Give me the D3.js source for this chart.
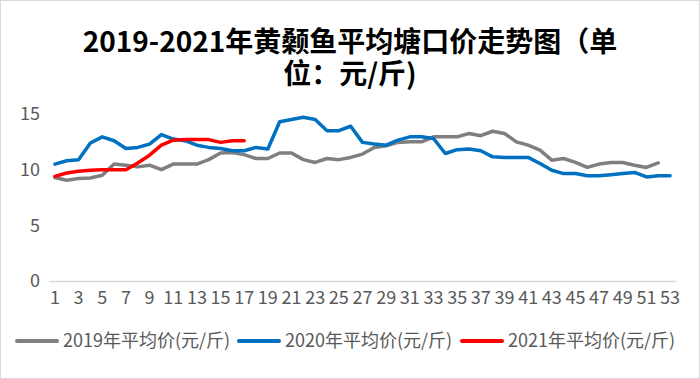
<!DOCTYPE html>
<html><head><meta charset="utf-8">
<script src="https://cdn.jsdelivr.net/npm/d3@7"></script>
<style>html,body{margin:0;padding:0;background:#fff;}svg{display:block;}</style>
</head><body>
<svg id="chart" width="700" height="379"></svg>
<script>
const weeks = d3.range(1, 54);
const tickLabels = weeks.filter(w => w % 2 === 1);
const yTicks = [0, 5, 10, 15];
const seriesNames = ["2019年平均价(元/斤)", "2020年平均价(元/斤)", "2021年平均价(元/斤)"];
const seriesColors = ["#7f7f7f", "#0070c0", "#ff0000"];
const price2019 = [9.3, 9.05, 9.2, 9.25, 9.5, 10.5, 10.4, 10.25, 10.4, 10.0, 10.5, 10.5, 10.5, 10.9, 11.5, 11.55, 11.35, 11.0, 11.0, 11.5, 11.5, 10.9, 10.65, 11.0, 10.9, 11.1, 11.4, 12.0, 12.15, 12.45, 12.5, 12.5, 12.95, 12.95, 12.95, 13.25, 13.05, 13.45, 13.25, 12.5, 12.2, 11.75, 10.85, 11.0, 10.65, 10.2, 10.5, 10.65, 10.65, 10.4, 10.2, 10.6];
const price2020 = [10.5, 10.8, 10.9, 12.4, 12.95, 12.6, 11.9, 12.0, 12.3, 13.15, 12.75, 12.6, 12.2, 12.0, 11.9, 11.7, 11.7, 12.0, 11.85, 14.3, 14.5, 14.7, 14.5, 13.5, 13.5, 13.9, 12.45, 12.3, 12.2, 12.65, 12.95, 12.95, 12.8, 11.45, 11.8, 11.85, 11.7, 11.15, 11.1, 11.1, 11.1, 10.55, 9.95, 9.65, 9.65, 9.45, 9.45, 9.55, 9.65, 9.75, 9.35, 9.45, 9.45];
const price2021 = [9.4, 9.7, 9.85, 9.95, 10.0, 10.0, 10.0, 10.6, 11.3, 12.2, 12.65, 12.7, 12.7, 12.7, 12.45, 12.6, 12.6];
const seriesData = [price2019, price2020, price2021];

const svg = d3.select("#chart");
const font = "'Noto Sans CJK SC', 'Noto Sans', sans-serif";
svg.append("rect").attr("x", 0.5).attr("y", 0.5).attr("width", 699).attr("height", 378)
  .attr("fill", "#fff").attr("stroke", "#d9d9d9").attr("stroke-width", 1);

// title
const title = svg.append("text").attr("text-anchor", "middle").attr("font-family", font)
  .attr("font-weight", "bold").attr("font-size", 28).attr("fill", "#000");
title.append("tspan").attr("x", 350).attr("y", 52).text("2019-2021年黄颡鱼平均塘口价走势图（单");
title.append("tspan").attr("x", 350).attr("y", 84).text("位：元/斤)");

const x = d3.scaleBand().domain(weeks).range([49, 676]).padding(0);
const y = d3.scaleLinear().domain([0, 15]).range([281, 114]);

// y axis labels
const yAxis = d3.axisLeft(y).tickValues(yTicks).tickSize(0).tickPadding(0);
const gy = svg.append("g").attr("transform", "translate(40,0)").call(yAxis);
gy.select(".domain").remove();
gy.selectAll("text").attr("font-family", font).attr("font-size", 18).attr("fill", "#595959");

// x axis
const xAxis = d3.axisBottom(x).tickValues(tickLabels).tickSize(0).tickPadding(10);
const gx = svg.append("g").attr("transform", "translate(0,281)").call(xAxis);
gx.select(".domain").attr("stroke", "#d9d9d9").attr("stroke-width", 1.5);
gx.selectAll("text").attr("font-family", font).attr("font-size", 18).attr("fill", "#595959");

const line = d3.line().x((d, i) => x(weeks[i]) + x.bandwidth() / 2).y(d => y(d));
seriesData.forEach((arr, k) => {
  svg.append("path").datum(arr).attr("d", line).attr("fill", "none")
    .attr("stroke", seriesColors[k]).attr("stroke-width", 3.5)
    .attr("stroke-linejoin", "round").attr("stroke-linecap", "round");
});

// legend
const legendX = [15, 237, 460];
seriesNames.forEach((name, k) => {
  const g = svg.append("g").attr("transform", `translate(${legendX[k]},341)`);
  g.append("line").attr("x1", 2).attr("x2", 42).attr("y1", 0).attr("y2", 0)
    .attr("stroke", seriesColors[k]).attr("stroke-width", 4).attr("stroke-linecap", "round");
  g.append("text").attr("x", 48).attr("y", 0).attr("dy", "0.35em")
    .attr("font-family", font).attr("font-size", 18).attr("fill", "#595959").text(name);
});
</script>
</body></html>
